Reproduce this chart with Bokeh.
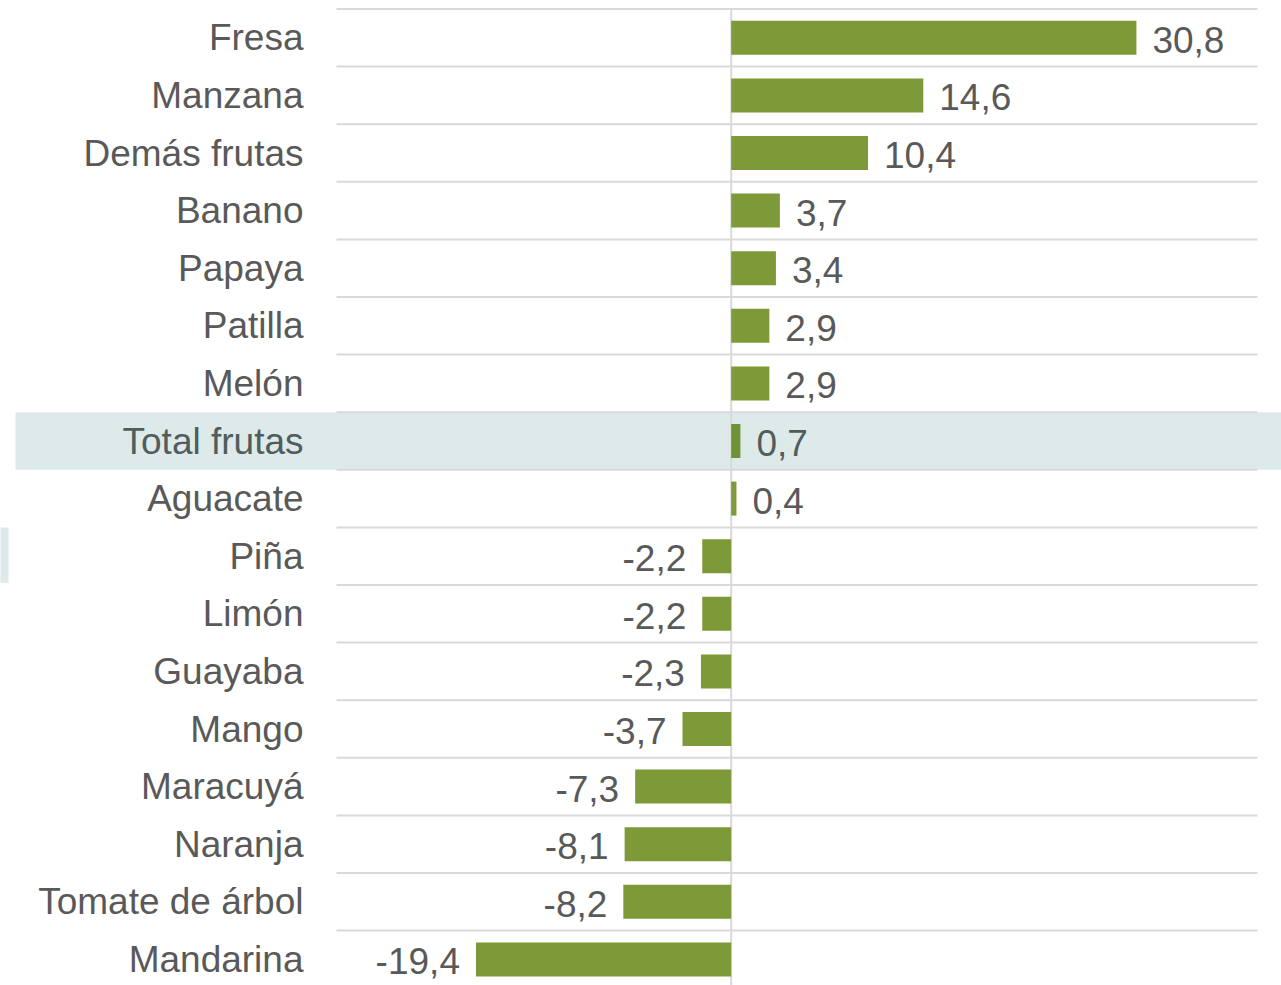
from bokeh.plotting import figure
from bokeh.models import Range1d, ColumnDataSource
from bokeh.core.properties import value
from bokeh.embed import file_html
from bokeh.resources import INLINE

categories = ["Fresa", "Manzana", "Demás frutas", "Banano", "Papaya", "Patilla", "Melón",
              "Total frutas", "Aguacate", "Piña", "Limón", "Guayaba", "Mango", "Maracuyá",
              "Naranja", "Tomate de árbol", "Mandarina"]
values = [30.8, 14.6, 10.4, 3.7, 3.4, 2.9, 2.9, 0.7, 0.4, -2.2, -2.2, -2.3, -3.7, -7.3,
          -8.1, -8.2, -19.4]
highlight = "Total frutas"

W, H = 1281, 985
px_per_unit = 13.157
zero_px = 730.7
row_px = 57.6
top_px = 8.5
n = len(categories)

x_start = -zero_px / px_per_unit
x_end = (W - zero_px) / px_per_unit
y_end = (n - 0.5) + top_px / row_px
y_start = y_end - H / row_px

p = figure(width=W, height=H, output_backend="svg", toolbar_location=None,
           x_range=Range1d(x_start, x_end), y_range=Range1d(y_start, y_end),
           min_border=0, outline_line_color=None)
p.axis.visible = False
p.grid.visible = False
p.background_fill_color = "white"

ys = [n - 1 - i for i in range(n)]
hi_idx = categories.index(highlight)
hy = ys[hi_idx]

# highlight band
p.quad(left=[(15 - zero_px) / px_per_unit], right=[x_end + 5], bottom=[hy - 0.5], top=[hy + 0.5],
       fill_color="#deeaea", line_color=None)
# small stray band fragment at the left edge (Piña row)
py = ys[categories.index("Piña")]
p.quad(left=[x_start - 1], right=[(8 - zero_px) / px_per_unit], bottom=[py - 0.5 + 2 / row_px],
       top=[py + 0.5], fill_color="#deeaea", line_color=None)

# gridlines between categories
gy = [k + 0.5 for k in range(-1, n)]
p.segment(x0=[-30] * len(gy), x1=[40] * len(gy), y0=gy, y1=gy, line_color="#d9d9d9", line_width=2)

# zero line
p.segment(x0=[0], x1=[0], y0=[n - 0.5], y1=[y_start - 1], line_color="#d9d9d9", line_width=2)

colors = ["#6f9236" if c == highlight else "#7e9a38" for c in categories]
src = ColumnDataSource(dict(y=ys, v=values, c=colors, cat=categories,
                            lab=[f"{v:.1f}".replace(".", ",") for v in values],
                            tc=["#4f5d5c" if c == highlight else "#595959" for c in categories]))
p.hbar(y="y", left=0, right="v", height=0.59, fill_color="c", line_color=None, source=src)

pos = [i for i, v in enumerate(values) if v >= 0]
neg = [i for i, v in enumerate(values) if v < 0]
for idxs, align, off in ((pos, "left", 16), (neg, "right", -16)):
    s = ColumnDataSource(dict(y=[ys[i] for i in idxs], v=[values[i] for i in idxs],
                              lab=[src.data["lab"][i] for i in idxs],
                              tc=[src.data["tc"][i] for i in idxs]))
    p.text(x="v", y="y", text="lab", source=s, x_offset=off, y_offset=2,
           text_align=align, text_baseline="middle", text_color="tc",
           text_font=value("Liberation Sans"), text_font_size="37px")

p.text(x=[-30] * n, y=ys, text=categories, x_offset=-33, y_offset=0,
       text_align="right", text_baseline="middle",
       text_color=src.data["tc"], text_font=value("Liberation Sans"), text_font_size="37px")

open("out.html", "w").write(file_html(p, INLINE))
